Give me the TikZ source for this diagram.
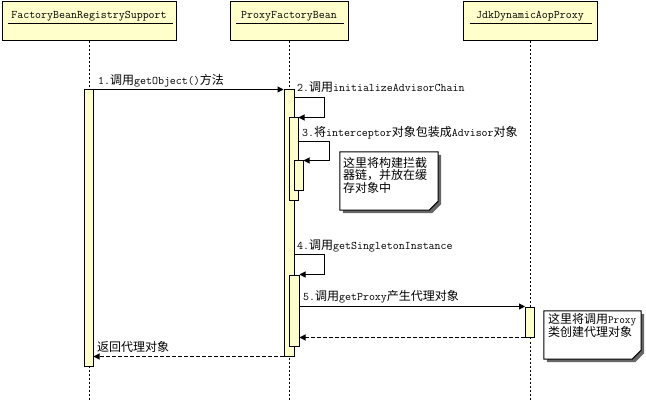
\documentclass[tikz,border=0pt]{standalone}
\usepackage{fontspec}
\newfontfamily\cjkfont{Noto Sans CJK SC}
\usetikzlibrary{arrows.meta,calc}
\newcommand{\zh}[1]{{\cjkfont\fontsize{12}{12.5}\selectfont #1}}
\definecolor{boxyellow}{RGB}{255,255,204}

\begin{document}
\begin{tikzpicture}[x=1pt,y=-1pt]
\path [use as bounding box] (0,0) rectangle (646,401);
\tikzstyle{head} = [draw, fill=boxyellow, inner sep=0pt, line width=1pt, minimum height=39pt]
\tikzstyle{act} = [draw, fill=boxyellow, inner sep=0pt, minimum width=9pt, line width=1pt]
\tikzstyle{lifeline} = [dash pattern=on 2pt off 2pt, line width=1pt]
\tikzstyle{msg} = [-{Triangle[length=6pt,width=6pt]}, line width=1pt]
\tikzstyle{ret} = [msg, dash pattern=on 4pt off 2pt]
\tikzstyle{lbl} = [inner sep=0pt, anchor=base west, font=\ttfamily\fontsize{11.6}{13}\selectfont]
\tikzstyle{notebox} = [inner sep=0pt]
\tikzstyle{note} = [draw, fill=white, line width=1pt]
\tikzstyle{notetext} = [inner sep=0pt, anchor=north west, align=left, font=\cjkfont\fontsize{12}{12.5}\selectfont]
\node[head, minimum width=174pt] (frs) at (89,21.5) {};
\node[head, minimum width=118pt] (pfb) at (289,21.5) {};
\node[head, minimum width=134pt] (jdk) at (530,21.5) {};
\node[lbl, anchor=base] (frsname) at (frs.center |- 0,19) {FactoryBeanRegistrySupport};
\node[lbl, anchor=base] (pfbname) at (pfb.center |- 0,19) {ProxyFactoryBean};
\node[lbl, anchor=base] (jdkname) at (jdk.center |- 0,19) {JdkDynamicAopProxy};
\draw[line width=1pt] ($(frs.north west)+(6,22)$) -- ($(frs.north east)+(-4,22)$);
\draw[line width=1pt] ($(pfb.north west)+(6,22)$) -- ($(pfb.north east)+(-5,22)$);
\draw[line width=1pt] ($(jdk.north west)+(7,22)$) -- ($(jdk.north east)+(-6,22)$);
\coordinate (frsend) at (89,401);
\coordinate (pfbend) at (289,401);
\coordinate (jdkend) at (530,401);
\draw[lifeline] (frs.south) -- (frsend);
\draw[lifeline] (pfb.south) -- (pfbend);
\draw[lifeline] (jdk.south) -- (jdkend);
\node[act, minimum height=276pt] (a1) at (88.5,228) {};
\node[act, minimum width=10pt, minimum height=266pt] (a2) at (289,223) {};
\node[act, minimum height=83pt] (a3) at (293.5,159.5) {};
\node[act, minimum height=30pt] (a4) at (298.5,176) {};
\node[act, minimum width=10pt, minimum height=71pt] (a5) at (294,310.5) {};
\node[act, minimum height=30pt] (a6) at (530,322) {};
\draw[msg] (a1.north east) -- (a2.north west);
\node[lbl] (m1) at (98,85) {1.\zh{调用}getObject()\zh{方法}};
\draw[msg] ($(a2.north east)+(0,8)$) -- ++(30,0) |- (a3.north east);
\node[lbl] (m2) at (297,92) {2.\zh{调用}initializeAdvisorChain};
\draw[msg] ($(a3.north east)+(0,24)$) -- ++(31,0) |- (a4.north east);
\node[lbl] (m3) at (302,137) {3.\zh{将}interceptor\zh{对象包装成}Advisor\zh{对象}};
\draw[msg] ($(a2.north east)+(0,165)$) -- ++(30,0) |- (a5.north east);
\node[lbl] (m4) at (297,250) {4.\zh{调用}getSingletonInstance};
\draw[msg] ($(a5.north east)+(0,32)$) -- (a6.north west);
\node[lbl] (m5) at (303,301) {5.\zh{调用}getProxy\zh{产生代理对象}};
\draw[ret] (a6.south west) -- (a6.south west -| a5.east);
\draw[ret] (a2.south west) -- (a2.south west -| a1.east);
\node[lbl] (r1) at (97,351) {\zh{返回代理对象}};
\node[notebox, minimum width=98pt, minimum height=58pt] (n1) at (389,181) {};
\fill[black!60] ($(n1.north west)+(3,3)$) -- ($(n1.north east)+(3,3)$) -- ($(n1.south east)+(3,-6)$) -- ($(n1.south east)+(-6,3)$) -- ($(n1.south west)+(3,3)$) -- cycle;
\draw[note] (n1.north west) -- (n1.north east) -- ($(n1.south east)+(0,-9)$) -- ($(n1.south east)+(-9,0)$) -- (n1.south west) -- cycle;
\node[notetext] (n1text) at ($(n1.north west)+(3,5)$) {这里将构建拦截\\器链，并放在缓\\存对象中};
\node[notebox, minimum width=97pt, minimum height=48pt] (n2) at (592.5,335) {};
\fill[black!60] ($(n2.north west)+(3,3)$) -- ($(n2.north east)+(3,3)$) -- ($(n2.south east)+(3,-6)$) -- ($(n2.south east)+(-6,3)$) -- ($(n2.south west)+(3,3)$) -- cycle;
\draw[note] (n2.north west) -- (n2.north east) -- ($(n2.south east)+(0,-9)$) -- ($(n2.south east)+(-9,0)$) -- (n2.south west) -- cycle;
\node[notetext] (n2text) at ($(n2.north west)+(4,2)$) {这里将调用{\ttfamily\fontsize{11}{12.5}\selectfont Proxy}\\类创建代理对象};
\end{tikzpicture}
\end{document}
